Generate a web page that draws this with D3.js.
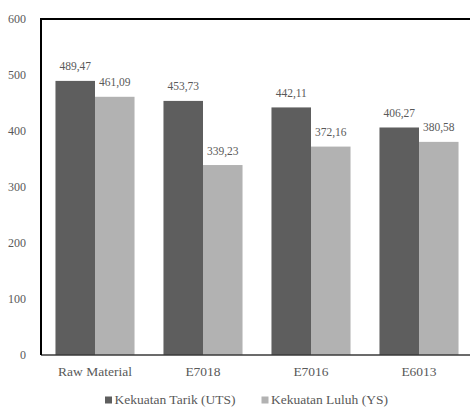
<!DOCTYPE html>
<html>
<head>
<meta charset="utf-8">
<script src="https://cdn.jsdelivr.net/npm/d3@7/dist/d3.min.js"></script>
<style>
  html, body { margin: 0; padding: 0; background: #fff; }
  svg text { font-family: "Times New Roman", "Liberation Serif", Tinos, "DejaVu Serif", serif; }
</style>
</head>
<body>
<svg id="chart" width="470" height="408"></svg>
<script>
// Tensile test results per material
const categories = ["Raw Material", "E7018", "E7016", "E6013"];
const seriesNames = ["Kekuatan Tarik (UTS)", "Kekuatan Luluh (YS)"];
const utsValues = [489.47, 453.73, 442.11, 406.27];
const ysValues = [461.09, 339.23, 372.16, 380.58];
const yTicks = [0, 100, 200, 300, 400, 500, 600];
const seriesColors = ["#5e5e5e", "#b2b2b2"];
const textColor = "#595959";

const svg = d3.select("#chart");
const plotLeft = 41, plotRight = 473, plotTop = 19, plotBottom = 355;

const x0 = d3.scaleBand().domain(categories).range([plotLeft, plotRight])
  .paddingInner(0.268).paddingOuter(0.134);
const x1 = d3.scaleBand().domain(seriesNames).range([0, x0.bandwidth()]);
const y = d3.scaleLinear().domain([0, 600]).range([plotBottom, plotTop]);

const series = [utsValues, ysValues];
const fmt = v => v.toFixed(2).replace(".", ",");

// Bars and value labels
categories.forEach((cat, i) => {
  const g = svg.append("g").attr("transform", `translate(${x0(cat)},0)`);
  seriesNames.forEach((name, s) => {
    const v = series[s][i];
    g.append("rect")
      .attr("x", x1(name))
      .attr("y", y(v))
      .attr("width", x1.bandwidth())
      .attr("height", y(0) - y(v))
      .attr("fill", seriesColors[s]);
    g.append("text")
      .attr("x", x1(name) + x1.bandwidth() / 2)
      .attr("y", y(v) - 10.5)
      .attr("text-anchor", "middle")
      .attr("font-size", 11.5)
      .attr("fill", textColor)
      .text(fmt(v));
  });
});

// Y axis
const yAxis = svg.append("g").attr("transform", `translate(${plotLeft},0)`)
  .call(d3.axisLeft(y).tickValues(yTicks).tickSize(0).tickPadding(15));
yAxis.select(".domain").remove();
yAxis.attr("font-family", null);
yAxis.selectAll("text").attr("font-size", 12).attr("fill", textColor);

// X axis
const xAxis = svg.append("g").attr("transform", `translate(0,${plotBottom})`)
  .call(d3.axisBottom(x0).tickSize(0).tickPadding(11));
xAxis.select(".domain").remove();
xAxis.attr("font-family", null);
xAxis.selectAll("text").attr("font-size", 13.5).attr("fill", textColor);

// Frame lines
svg.append("line").attr("x1", plotLeft).attr("x2", 470).attr("y1", y(0)).attr("y2", y(0))
  .attr("stroke", "#3a3a3a").attr("stroke-width", 1.5);
svg.append("line").attr("x1", plotLeft).attr("x2", 470).attr("y1", plotTop).attr("y2", plotTop)
  .attr("stroke", "#000").attr("stroke-width", 2);
svg.append("line").attr("x1", plotLeft).attr("x2", plotLeft).attr("y1", plotTop - 1).attr("y2", plotBottom)
  .attr("stroke", "#000").attr("stroke-width", 2);

// Legend
const legendX = [105, 261.5];
seriesNames.forEach((name, s) => {
  const lg = svg.append("g").attr("transform", `translate(${legendX[s]},396.5)`);
  lg.append("rect").attr("width", 7).attr("height", 7).attr("fill", seriesColors[s]);
  lg.append("text").attr("x", 9.5).attr("y", 7)
    .attr("font-size", 13.5).attr("fill", textColor).text(name);
});
</script>
</body>
</html>
